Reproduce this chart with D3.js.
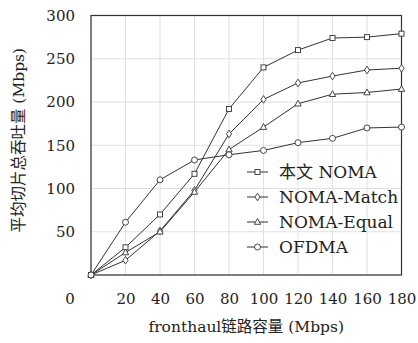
<!DOCTYPE html>
<html>
<head>
<meta charset="utf-8">
<script src="https://cdn.jsdelivr.net/npm/d3@7"></script>
<style>
  body { margin: 0; background: #fff; }
</style>
</head>
<body>
<div id="chart"></div>
<script>
// data
var xValues = [0, 20, 40, 60, 80, 100, 120, 140, 160, 180];
var nomaOurs  = [0, 32, 70, 117, 192, 240, 260, 274, 275, 279];
var nomaMatch = [0, 17, 51, 98, 163, 203, 222, 230, 237, 239];
var nomaEqual = [0, 26, 50, 96, 145, 171, 198, 209, 211, 215];
var ofdma     = [0, 61, 110, 133, 139, 144, 153, 158, 170, 171];
var seriesNames = ["本文 NOMA", "NOMA-Match", "NOMA-Equal", "OFDMA"];
var markerTypes = ["square", "diamond", "triangle", "circle"];
var xTicks = [0, 20, 40, 60, 80, 100, 120, 140, 160, 180];
var yTicks = [0, 50, 100, 150, 200, 250, 300];

var FONT = "'DejaVu Serif', 'Noto Sans CJK SC', serif";

var W = 418, H = 343;
var margin = {top: 15.5, right: 16.5, bottom: 68, left: 91};
var width = W - margin.left - margin.right,
    height = H - margin.top - margin.bottom;

var svg = d3.select("#chart").append("svg")
  .attr("width", W).attr("height", H)
  .append("g")
  .attr("transform", "translate(" + margin.left + "," + margin.top + ")");

var x = d3.scaleLinear().domain([0, 180]).range([0, width]);
var y = d3.scaleLinear().domain([0, 300]).range([height, 0]);

// grid
svg.append("g").selectAll("line").data(xTicks).enter().append("line")
  .attr("x1", d => x(d)).attr("x2", d => x(d))
  .attr("y1", 0).attr("y2", height)
  .attr("stroke", "#e0e0e0").attr("stroke-width", 1);
svg.append("g").selectAll("line").data(yTicks).enter().append("line")
  .attr("x1", 0).attr("x2", width)
  .attr("y1", d => y(d)).attr("y2", d => y(d))
  .attr("stroke", "#e0e0e0").attr("stroke-width", 1);

// axes (labels only, the 0 is drawn once at the corner)
var xAxis = svg.append("g")
  .attr("transform", "translate(0," + height + ")")
  .call(d3.axisBottom(x).tickValues(xTicks).tickSize(0).tickPadding(18)
    .tickFormat(d => d === 0 ? "" : d));
var yAxis = svg.append("g")
  .call(d3.axisLeft(y).tickValues(yTicks).tickSize(0).tickPadding(16)
    .tickFormat(d => d === 0 ? "" : d));
[xAxis, yAxis].forEach(function(a) {
  a.attr("font-family", FONT).attr("font-size", 15);
  a.select(".domain").remove();
  a.selectAll("text").attr("fill", "#222");
});
svg.append("text")
  .attr("x", x(0) - 21).attr("y", y(0) + 29)
  .attr("text-anchor", "middle")
  .attr("font-family", FONT).attr("font-size", 15).attr("fill", "#222")
  .text("0");

// frame
svg.append("rect")
  .attr("width", width).attr("height", height)
  .attr("fill", "none").attr("stroke", "#333").attr("stroke-width", 1.2);

// markers
function drawMarker(g, type) {
  if (type === "square") {
    g.append("rect").attr("x", -2.5).attr("y", -2.5).attr("width", 5).attr("height", 5);
  } else if (type === "diamond") {
    g.append("path").attr("d", "M0,-3.8L2.6,0L0,3.8L-2.6,0Z");
  } else if (type === "triangle") {
    g.append("path").attr("d", "M0,-3.5L3.2,2.3L-3.2,2.3Z");
  } else {
    g.append("circle").attr("r", 3);
  }
  g.selectAll("*").attr("fill", "#fff").attr("stroke", "#333").attr("stroke-width", 0.9);
}

var allSeries = [nomaOurs, nomaMatch, nomaEqual, ofdma];
var line = d3.line().x((d, i) => x(xValues[i])).y(d => y(d));

allSeries.forEach(function(vals) {
  svg.append("path").datum(vals)
    .attr("fill", "none").attr("stroke", "#333").attr("stroke-width", 1)
    .attr("d", line);
});
allSeries.forEach(function(vals, k) {
  vals.forEach(function(v, i) {
    var g = svg.append("g").attr("transform", "translate(" + x(xValues[i]) + "," + y(v) + ")");
    drawMarker(g, markerTypes[k]);
  });
});

// legend
var legend = svg.append("g").attr("transform", "translate(" + (247 - margin.left) + "," + (172 - margin.top) + ")");
seriesNames.forEach(function(name, k) {
  var row = legend.append("g").attr("transform", "translate(0," + (k * 25) + ")");
  row.append("line").attr("x1", 0).attr("x2", 21).attr("y1", 0).attr("y2", 0)
    .attr("stroke", "#333").attr("stroke-width", 1);
  var m = row.append("g").attr("transform", "translate(10.5,0)");
  drawMarker(m, markerTypes[k]);
  row.append("text").attr("x", 32).attr("y", 6)
    .attr("font-family", FONT).attr("font-size", 17).attr("fill", "#222")
    .text(name);
});

// axis titles
svg.append("text")
  .attr("x", width / 2).attr("y", height + 57)
  .attr("text-anchor", "middle")
  .attr("font-family", FONT).attr("font-size", 15.5).attr("fill", "#222")
  .text("fronthaul链路容量 (Mbps)");
svg.append("text")
  .attr("transform", "translate(" + (-margin.left + 24) + "," + (height / 2 - 5) + ") rotate(-90)")
  .attr("text-anchor", "middle")
  .attr("font-family", FONT).attr("font-size", 15.5).attr("fill", "#222")
  .text("平均切片总吞吐量 (Mbps)");
</script>
</body>
</html>
